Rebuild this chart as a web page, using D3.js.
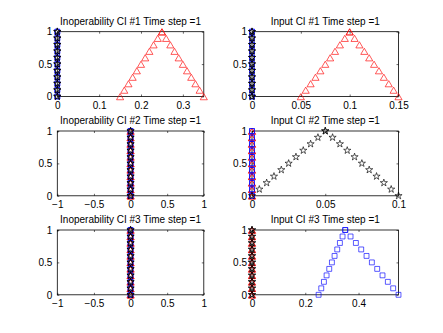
<!DOCTYPE html>
<html>
<head>
<meta charset="utf-8">
<script src="https://cdn.jsdelivr.net/npm/d3@7"></script>
<style>
  body { margin: 0; background: #fff; }
  svg { display: block; font-family: "Liberation Sans", Arial, Helvetica, sans-serif; }
</style>
</head>
<body>
<svg id="chart" width="443" height="333"></svg>
<script>
// membership levels (y axis)
const alphaLevels = [0, 0.1, 0.2, 0.3, 0.4, 0.5, 0.6, 0.7, 0.8, 0.9, 1];
const zeroCut = [0, 0, 0, 0, 0, 0, 0, 0, 0, 0, 0];

// Inoperability CI #1 - red triangles
const inop1TriLower = [0.15, 0.16, 0.17, 0.18, 0.19, 0.20, 0.21, 0.22, 0.23, 0.24, 0.25];
const inop1TriUpper = [0.35, 0.34, 0.33, 0.32, 0.31, 0.30, 0.29, 0.28, 0.27, 0.26, 0.25];

// Input CI #1 - red triangles
const input1TriLower = [0.05, 0.055, 0.06, 0.065, 0.07, 0.075, 0.08, 0.085, 0.09, 0.095, 0.10];
const input1TriUpper = [0.15, 0.145, 0.14, 0.135, 0.13, 0.125, 0.12, 0.115, 0.11, 0.105, 0.10];

// Input CI #2 - black stars
const input2StarLower = [0, 0.005, 0.01, 0.015, 0.02, 0.025, 0.03, 0.035, 0.04, 0.045, 0.05];
const input2StarUpper = [0.1, 0.095, 0.09, 0.085, 0.08, 0.075, 0.07, 0.065, 0.06, 0.055, 0.05];

// Input CI #3 - blue squares
const input3SqLower = [0.25, 0.26, 0.27, 0.28, 0.29, 0.30, 0.31, 0.32, 0.33, 0.34, 0.35];
const input3SqUpper = [0.55, 0.53, 0.51, 0.49, 0.47, 0.45, 0.43, 0.41, 0.39, 0.37, 0.35];

const titles = [
  "Inoperability CI #1 Time step =1", "Input CI #1 Time step =1",
  "Inoperability CI #2 Time step =1", "Input CI #2 Time step =1",
  "Inoperability CI #3 Time step =1", "Input CI #3 Time step =1"
];
const xDomains = [[0, 0.35], [0, 0.15], [-1, 1], [0, 0.1], [-1, 1], [0, 0.55]];
const xTicks = [
  [0, 0.1, 0.2, 0.3], [0, 0.05, 0.1, 0.15],
  [-1, -0.5, 0, 0.5, 1], [0, 0.05, 0.1],
  [-1, -0.5, 0, 0.5, 1], [0, 0.2, 0.4]
];
const yTicks = [0, 0.5, 1];

// per panel: [red triangles, blue squares, black stars] as [lower, upper]
const panelSeries = [
  [[inop1TriLower, inop1TriUpper], [zeroCut, zeroCut], [zeroCut, zeroCut]],
  [[input1TriLower, input1TriUpper], [zeroCut, zeroCut], [zeroCut, zeroCut]],
  [[zeroCut, zeroCut], [zeroCut, zeroCut], [zeroCut, zeroCut]],
  [[zeroCut, zeroCut], [zeroCut, zeroCut], [input2StarLower, input2StarUpper]],
  [[zeroCut, zeroCut], [zeroCut, zeroCut], [zeroCut, zeroCut]],
  [[zeroCut, zeroCut], [input3SqLower, input3SqUpper], [zeroCut, zeroCut]]
];

const markers = [
  {symbol: d3.symbolTriangle, size: 22, color: "#ff0000"},
  {symbol: d3.symbolSquare, size: 24, color: "#0000ff"},
  {symbol: d3.symbolStar, size: 16, color: "#000000"}
];

const colLeft = [57.3, 252];
const plotW = 146.5;
const rowTop = [31.7, 131, 230];
const plotH = 64.8;

const svg = d3.select("#chart");
svg.append("rect").attr("width", 443).attr("height", 333).attr("fill", "#fff");

const fmt = d3.format("~g");

titles.forEach(function (title, i) {
  const left = colLeft[i % 2];
  const top = rowTop[Math.floor(i / 2)];

  const x = d3.scaleLinear().domain(xDomains[i]).range([0, plotW]);
  const y = d3.scaleLinear().domain([0, 1]).range([plotH, 0]);

  const g = svg.append("g").attr("transform", `translate(${left}, ${top})`);

  g.append("rect")
    .attr("width", plotW)
    .attr("height", plotH)
    .attr("fill", "none")
    .attr("stroke", "#000")
    .attr("stroke-width", 0.8);

  g.append("g")
    .attr("transform", `translate(0, ${plotH})`)
    .call(d3.axisBottom(x).tickValues(xTicks[i]).tickFormat(fmt)
      .tickSizeInner(-2).tickSizeOuter(0).tickPadding(5.5));
  g.append("g")
    .call(d3.axisTop(x).tickValues(xTicks[i]).tickFormat("")
      .tickSizeInner(-2).tickSizeOuter(0));
  g.append("g")
    .call(d3.axisLeft(y).tickValues(yTicks).tickFormat(fmt)
      .tickSizeInner(-2).tickSizeOuter(0).tickPadding(5));
  g.append("g")
    .attr("transform", `translate(${plotW}, 0)`)
    .call(d3.axisRight(y).tickValues(yTicks).tickFormat("")
      .tickSizeInner(-2).tickSizeOuter(0));

  g.selectAll(".domain").remove();
  g.selectAll(".tick line").attr("stroke", "#000").attr("stroke-width", 0.6);
  g.selectAll(".tick text")
    .attr("fill", "#000")
    .style("font-family", "'Liberation Sans', Arial, sans-serif")
    .style("font-size", "10px");

  g.append("text")
    .attr("x", plotW / 2)
    .attr("y", -7.2)
    .attr("text-anchor", "middle")
    .style("font-size", "10px")
    .attr("fill", "#000")
    .text(title);

  panelSeries[i].forEach(function (cut, s) {
    const m = markers[s];
    const pts = [];
    alphaLevels.forEach(function (a, k) {
      pts.push({x: cut[0][k], y: a});
      pts.push({x: cut[1][k], y: a});
    });
    const sym = d3.symbol().type(m.symbol).size(m.size);
    g.append("g").selectAll("path")
      .data(pts)
      .enter()
      .append("path")
      .attr("transform", function (d) {
        const dy = m.symbol === d3.symbolTriangle ? 1.2 : 0;
        return `translate(${x(d.x)}, ${y(d.y) + dy})`;
      })
      .attr("d", sym)
      .attr("fill", "none")
      .attr("stroke", m.color)
      .attr("stroke-width", 0.65);
  });
});
</script>
</body>
</html>
